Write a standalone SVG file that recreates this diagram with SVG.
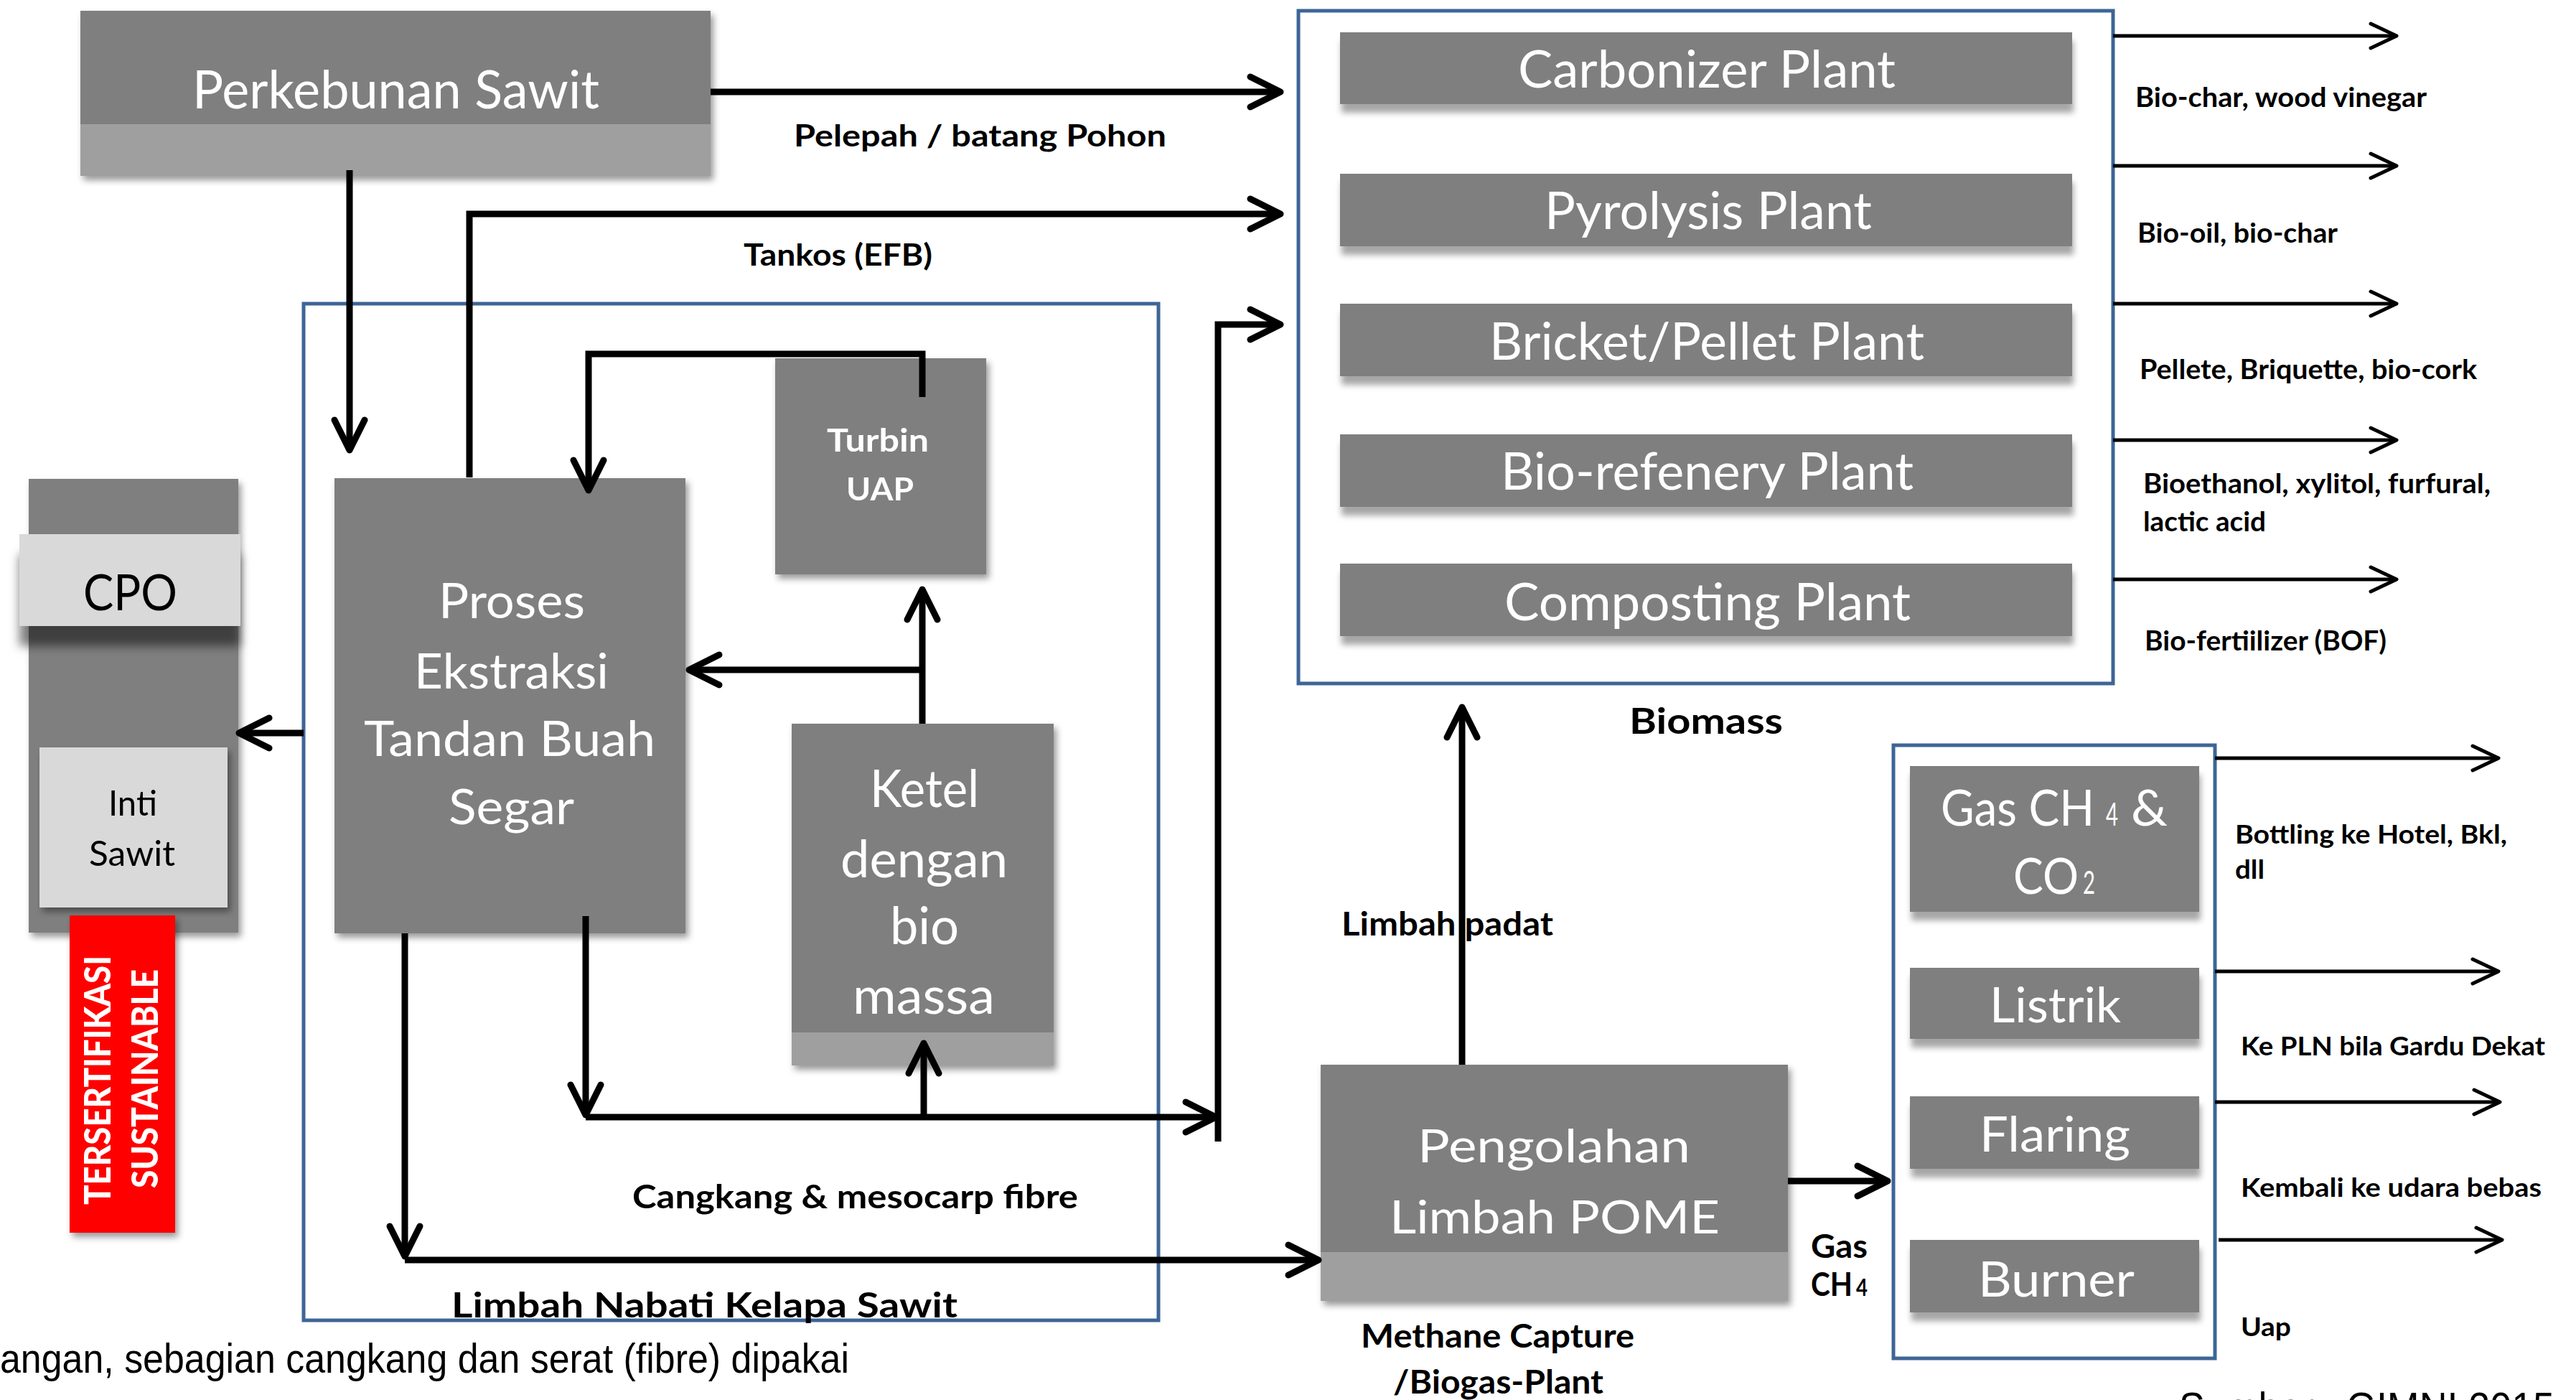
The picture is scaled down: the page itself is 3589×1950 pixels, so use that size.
<svg xmlns="http://www.w3.org/2000/svg" width="3589" height="1950" viewBox="0 0 3589 1950">
<defs>
<style>
.box{fill:#7f7f7f}
.band{fill:#9f9f9f}
.light{fill:#d9d9d9}
.frame{fill:none;stroke:#3d6596;stroke-width:5}
.wt{fill:#fff;font-family:Lato,"Open Sans",sans-serif}
.bt{fill:#000;font-family:Lato,"Open Sans",sans-serif}
.lb{fill:#000;font-family:Lato,"Open Sans",sans-serif;font-weight:bold}
.c{fill:none;stroke:#000;stroke-width:9;marker-end:url(#ah)}
.ct{fill:none;stroke:#000;stroke-width:5;marker-end:url(#as)}
</style>
<marker id="ah" markerUnits="userSpaceOnUse" viewBox="-60 -40 80 80" markerWidth="80" markerHeight="80" refX="0" refY="0" orient="auto" overflow="visible">
<path d="M-42,-21 L0,0 L-42,21" fill="none" stroke="#000" stroke-width="9" stroke-linecap="round" stroke-linejoin="round"/>
</marker>
<marker id="as" markerUnits="userSpaceOnUse" viewBox="-60 -40 80 80" markerWidth="80" markerHeight="80" refX="0" refY="0" orient="auto" overflow="visible">
<path d="M-36,-17 L0,0 L-36,17" fill="none" stroke="#000" stroke-width="5" stroke-linecap="round" stroke-linejoin="round"/>
</marker>
<filter id="sh" x="-10%" y="-10%" width="130%" height="140%">
<feDropShadow dx="4" dy="6" stdDeviation="5" flood-color="#000" flood-opacity="0.4"/>
</filter>
<filter id="shp" x="-5%" y="-20%" width="115%" height="160%">
<feDropShadow dx="2" dy="12" stdDeviation="4" flood-color="#000" flood-opacity="0.35"/>
</filter>
<filter id="shd" x="-10%" y="-20%" width="130%" height="180%">
<feDropShadow dx="0" dy="28" stdDeviation="7" flood-color="#000" flood-opacity="0.5"/>
</filter>
</defs>
<rect x="0" y="0" width="3589" height="1950" fill="#fff"/>

<g id="frame-limbah"><rect class="frame" x="423" y="423" width="1191" height="1416"/></g>
<g id="frame-biomass"><rect class="frame" x="1809" y="15" width="1135" height="937"/></g>
<g id="frame-gas"><rect class="frame" x="2638" y="1038" width="448" height="854"/></g>

<g id="perkebunan" filter="url(#sh)">
<rect class="box" x="112" y="15" width="878" height="158"/>
<rect class="band" x="112" y="173" width="878" height="72"/>
<text class="wt" x="268" y="151" font-size="73" textLength="567" lengthAdjust="spacingAndGlyphs">Perkebunan Sawit</text>
</g>

<g id="cpo">
<rect class="box" x="40" y="667" width="292" height="632" filter="url(#sh)"/>
<rect class="light" x="27" y="744" width="308" height="128" filter="url(#shd)"/>
<text class="bt" x="116" y="850" font-size="70" textLength="131" lengthAdjust="spacingAndGlyphs">CPO</text>
</g>
<g id="inti-sawit">
<rect class="light" x="55" y="1041" width="262" height="223" filter="url(#sh)"/>
<text class="bt" x="151" y="1136" font-size="49" textLength="68" lengthAdjust="spacingAndGlyphs">Inti</text>
<text class="bt" x="124" y="1206" font-size="49" textLength="120" lengthAdjust="spacingAndGlyphs">Sawit</text>
</g>
<g id="sertifikasi">
<rect x="97" y="1275" width="147" height="442" fill="#ff0000" filter="url(#sh)"/>
<text class="wt" transform="translate(154,1678) rotate(-90)" x="0" y="0" font-size="52" font-weight="900" textLength="347" lengthAdjust="spacingAndGlyphs">TERSERTIFIKASI</text>
<text class="wt" transform="translate(220,1655) rotate(-90)" x="0" y="0" font-size="52" font-weight="900" textLength="305" lengthAdjust="spacingAndGlyphs">SUSTAINABLE</text>
</g>

<g id="proses" filter="url(#sh)">
<rect class="box" x="466" y="666" width="489" height="634"/>
<text class="wt" x="611" y="861" font-size="67" textLength="204" lengthAdjust="spacingAndGlyphs">Proses</text>
<text class="wt" x="577" y="959" font-size="67" textLength="271" lengthAdjust="spacingAndGlyphs">Ekstraksi</text>
<text class="wt" x="507" y="1053" font-size="67" textLength="406" lengthAdjust="spacingAndGlyphs">Tandan Buah</text>
<text class="wt" x="625" y="1148" font-size="67" textLength="175" lengthAdjust="spacingAndGlyphs">Segar</text>
</g>

<g id="turbin" filter="url(#sh)">
<rect class="box" x="1080" y="499" width="294" height="301"/>
<text class="wt" x="1152" y="629" font-size="43" font-weight="bold" textLength="142" lengthAdjust="spacingAndGlyphs">Turbin</text>
<text class="wt" x="1179" y="697" font-size="43" font-weight="bold" textLength="94" lengthAdjust="spacingAndGlyphs">UAP</text>
</g>

<g id="ketel" filter="url(#sh)">
<rect class="box" x="1103" y="1008" width="365" height="430"/>
<rect class="band" x="1103" y="1438" width="365" height="46"/>
<text class="wt" x="1212" y="1124" font-size="71" textLength="152" lengthAdjust="spacingAndGlyphs">Ketel</text>
<text class="wt" x="1171" y="1222" font-size="71" textLength="233" lengthAdjust="spacingAndGlyphs">dengan</text>
<text class="wt" x="1240" y="1315" font-size="71" textLength="96" lengthAdjust="spacingAndGlyphs">bio</text>
<text class="wt" x="1188" y="1412" font-size="71" textLength="198" lengthAdjust="spacingAndGlyphs">massa</text>
</g>

<g id="carbonizer"><rect class="box" x="1867" y="45" width="1020" height="100" filter="url(#shp)"/>
<text class="wt" x="2115" y="122" font-size="71" textLength="526" lengthAdjust="spacingAndGlyphs">Carbonizer Plant</text></g>
<g id="pyrolysis"><rect class="box" x="1867" y="242" width="1020" height="101" filter="url(#shp)"/>
<text class="wt" x="2152" y="319" font-size="71" textLength="456" lengthAdjust="spacingAndGlyphs">Pyrolysis Plant</text></g>
<g id="bricket"><rect class="box" x="1867" y="423" width="1020" height="101" filter="url(#shp)"/>
<text class="wt" x="2075" y="501" font-size="71" textLength="606" lengthAdjust="spacingAndGlyphs">Bricket/Pellet Plant</text></g>
<g id="biorefenery"><rect class="box" x="1867" y="605" width="1020" height="101" filter="url(#shp)"/>
<text class="wt" x="2091" y="682" font-size="71" textLength="575" lengthAdjust="spacingAndGlyphs">Bio-refenery Plant</text></g>
<g id="composting"><rect class="box" x="1867" y="785" width="1020" height="101" filter="url(#shp)"/>
<text class="wt" x="2096" y="864" font-size="71" textLength="566" lengthAdjust="spacingAndGlyphs">Composting Plant</text></g>

<g id="pome" filter="url(#sh)">
<rect class="box" x="1840" y="1483" width="651" height="261"/>
<rect class="band" x="1840" y="1744" width="651" height="68"/>
<text class="wt" x="1975" y="1619" font-size="64" textLength="380" lengthAdjust="spacingAndGlyphs">Pengolahan</text>
<text class="wt" x="1936" y="1718" font-size="64" textLength="460" lengthAdjust="spacingAndGlyphs">Limbah POME</text>
</g>

<g id="gas-ch4"><rect class="box" x="2661" y="1067" width="403" height="203" filter="url(#shp)"/>
<text class="wt" x="2704" y="1150" font-size="70" textLength="214" lengthAdjust="spacingAndGlyphs">Gas CH</text>
<text class="wt" x="2934" y="1150" font-size="44" textLength="17" lengthAdjust="spacingAndGlyphs">4</text>
<text class="wt" x="2969" y="1150" font-size="70" textLength="51" lengthAdjust="spacingAndGlyphs">&amp;</text>
<text class="wt" x="2805" y="1245" font-size="70" textLength="91" lengthAdjust="spacingAndGlyphs">CO</text>
<text class="wt" x="2902" y="1245" font-size="44" textLength="17" lengthAdjust="spacingAndGlyphs">2</text></g>
<g id="listrik"><rect class="box" x="2661" y="1348" width="403" height="99" filter="url(#shp)"/>
<text class="wt" x="2772" y="1424" font-size="67" textLength="183" lengthAdjust="spacingAndGlyphs">Listrik</text></g>
<g id="flaring"><rect class="box" x="2661" y="1527" width="403" height="101" filter="url(#shp)"/>
<text class="wt" x="2758" y="1604" font-size="67" textLength="210" lengthAdjust="spacingAndGlyphs">Flaring</text></g>
<g id="burner"><rect class="box" x="2661" y="1727" width="403" height="101" filter="url(#shp)"/>
<text class="wt" x="2756" y="1806" font-size="67" textLength="218" lengthAdjust="spacingAndGlyphs">Burner</text></g>

<g id="labels">
<text class="lb" x="1106" y="204" font-size="42" textLength="519" lengthAdjust="spacingAndGlyphs">Pelepah / batang Pohon</text>
<text class="lb" x="1036" y="370" font-size="42" textLength="263" lengthAdjust="spacingAndGlyphs">Tankos (EFB)</text>
<text class="lb" x="2270" y="1022" font-size="50" textLength="214" lengthAdjust="spacingAndGlyphs">Biomass</text>
<text class="lb" x="1869" y="1303" font-size="46" textLength="295" lengthAdjust="spacingAndGlyphs">Limbah padat</text>
<text class="lb" x="881" y="1683" font-size="46" textLength="621" lengthAdjust="spacingAndGlyphs">Cangkang &amp; mesocarp fibre</text>
<text class="lb" x="629" y="1835" font-size="48" textLength="705" lengthAdjust="spacingAndGlyphs">Limbah Nabati Kelapa Sawit</text>
<text class="lb" x="1896" y="1877" font-size="46" textLength="381" lengthAdjust="spacingAndGlyphs">Methane Capture</text>
<text class="lb" x="1941" y="1941" font-size="46" textLength="293" lengthAdjust="spacingAndGlyphs">/Biogas-Plant</text>
<text class="lb" x="2523" y="1752" font-size="46" textLength="79" lengthAdjust="spacingAndGlyphs">Gas</text>
<text class="lb" x="2523" y="1805" font-size="46" textLength="58" lengthAdjust="spacingAndGlyphs">CH</text>
<text class="lb" x="2586" y="1805" font-size="33" textLength="16" lengthAdjust="spacingAndGlyphs">4</text>
<text class="lb" x="2975" y="149" font-size="38" textLength="406" lengthAdjust="spacingAndGlyphs">Bio-char, wood vinegar</text>
<text class="lb" x="2978" y="338" font-size="38" textLength="279" lengthAdjust="spacingAndGlyphs">Bio-oil, bio-char</text>
<text class="lb" x="2981" y="528" font-size="38" textLength="470" lengthAdjust="spacingAndGlyphs">Pellete, Briquette, bio-cork</text>
<text class="lb" x="2986" y="687" font-size="38" textLength="484" lengthAdjust="spacingAndGlyphs">Bioethanol, xylitol, furfural,</text>
<text class="lb" x="2986" y="740" font-size="38" textLength="171" lengthAdjust="spacingAndGlyphs">lactic acid</text>
<text class="lb" x="2988" y="906" font-size="38" textLength="337" lengthAdjust="spacingAndGlyphs">Bio-fertiilizer (BOF)</text>
<text class="lb" x="3114" y="1175" font-size="37" textLength="379" lengthAdjust="spacingAndGlyphs">Bottling ke Hotel, Bkl,</text>
<text class="lb" x="3114" y="1224" font-size="37" textLength="41" lengthAdjust="spacingAndGlyphs">dll</text>
<text class="lb" x="3122" y="1470" font-size="37" textLength="424" lengthAdjust="spacingAndGlyphs">Ke PLN bila Gardu Dekat</text>
<text class="lb" x="3122" y="1667" font-size="37" textLength="419" lengthAdjust="spacingAndGlyphs">Kembali ke udara bebas</text>
<text class="lb" x="3122" y="1861" font-size="37" textLength="70" lengthAdjust="spacingAndGlyphs">Uap</text>
<text x="0" y="1912" font-family="'Liberation Sans',Arial,sans-serif" font-size="58" textLength="1183" lengthAdjust="spacingAndGlyphs">angan, sebagian cangkang dan serat (fibre) dipakai</text>
<text x="3036" y="1981" font-family="'Liberation Sans',Arial,sans-serif" font-size="60" textLength="523" lengthAdjust="spacingAndGlyphs">Sumber : GIMNI 2015</text>
</g>

<g id="connectors">
<path class="c" d="M990,128 H1784"/>
<path class="c" d="M654,665 V298 H1784"/>
<path class="c" d="M1697,1590 V452 H1784"/>
<path class="c" d="M487,237 V627"/>
<path class="c" d="M1285,553 V493 H820 V683"/>
<path class="c" d="M1285,1008 V821"/>
<path class="c" d="M1285,933 H960"/>
<path class="c" d="M816,1276 V1553"/>
<path class="c" d="M816,1556 H1694"/>
<path class="c" d="M1287,1556 V1453"/>
<path class="c" d="M564,1300 V1750"/>
<path class="c" d="M564,1755 H1837"/>
<path class="c" d="M423,1021 H333"/>
<path class="c" d="M2037,1483 V985"/>
<path class="c" d="M2491,1645 H2630"/>
<path class="ct" d="M2944,50 H3339"/>
<path class="ct" d="M2944,231 H3339"/>
<path class="ct" d="M2944,423 H3339"/>
<path class="ct" d="M2944,613 H3339"/>
<path class="ct" d="M2944,807 H3339"/>
<path class="ct" d="M3086,1056 H3481"/>
<path class="ct" d="M3086,1353 H3481"/>
<path class="ct" d="M3086,1535 H3483"/>
<path class="ct" d="M3091,1727 H3486"/>
</g>
</svg>
